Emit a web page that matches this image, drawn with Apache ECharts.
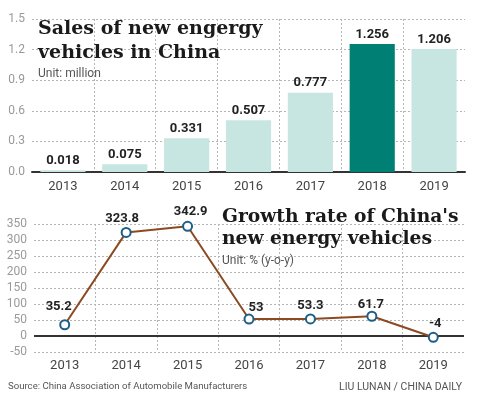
<!DOCTYPE html>
<html>
<head>
<meta charset="utf-8">
<script src="https://cdn.jsdelivr.net/npm/echarts@6/dist/echarts.min.js"></script>
<style>
html, body { margin: 0; padding: 0; background: #fff; }
#main { width: 478px; height: 399px; }
</style>
</head>
<body>
<div id="main"></div>
<script>
var years = ['2013', '2014', '2015', '2016', '2017', '2018', '2019'];
var sales = [0.018, 0.075, 0.331, 0.507, 0.777, 1.256, 1.206];
var growth = [35.2, 323.8, 342.9, 53, 53.3, 61.7, -4];
var salesTicks = [0, 1.5, 0.3];   // min, max, step
var growthTicks = [-50, 350, 50];

var chart = echarts.init(document.getElementById('main'));

var labelFont = 'Roboto, sans-serif';
var grayAxis = '#9a9a9a';
var gridLine = { color: '#b5b5b5', type: [2, 2], width: 1 };

// nudge line labels like the print graphic does
var lineLabelNudge = [[-6, -4], [-4, 0], [3, -1], [7, 3], [0, 1], [-1, 2], [2, 0]];

var growthData = growth.map(function (v, i) {
	return { value: v, label: { offset: lineLabelNudge[i] } };
});

var salesData = sales.map(function (v, i) {
	var top = v === Math.max.apply(null, sales);
	return { value: v, itemStyle: { color: top ? '#007f74' : '#c7e6e2' } };
});

chart.setOption({
	animation: false,
	title: [{
		left: 33, top: 12,
		text: 'Sales of new engergy\nvehicles in China',
		subtext: 'Unit: million',
		itemGap: 3,
		textStyle: { fontFamily: 'DejaVu Serif', fontWeight: 'bold', fontSize: 19, lineHeight: 24, color: '#1a1a1a' },
		subtextStyle: { fontFamily: labelFont, fontSize: 12, color: '#555' }
	}, {
		left: 217, top: 201,
		text: "Growth rate of China's\nnew energy vehicles",
		subtext: 'Unit: % (y-o-y)',
		itemGap: 5,
		textStyle: { fontFamily: 'DejaVu Serif', fontWeight: 'bold', fontSize: 18.7, lineHeight: 22, color: '#1a1a1a' },
		subtextStyle: { fontFamily: labelFont, fontSize: 12, color: '#555' }
	}, {
		left: 3, top: 377,
		text: 'Source: China Association of Automobile Manufacturers',
		textStyle: { fontFamily: labelFont, fontWeight: 'normal', fontSize: 9.6, color: '#555' }
	}, {
		right: 11, top: 377,
		text: 'LIU LUNAN / CHINA DAILY',
		textStyle: { fontFamily: labelFont, fontWeight: 'normal', fontSize: 10.5, color: '#555' }
	}],
	grid: [
		{ left: 32, right: 13, top: 19, height: 153 },
		{ left: 34, right: 14, top: 224, height: 128 }
	],
	xAxis: [{
		gridIndex: 0, type: 'category', data: years,
		axisLine: { lineStyle: { color: '#333', width: 2 } },
		axisTick: { show: false },
		axisLabel: { fontFamily: labelFont, fontSize: 13, color: '#444', margin: 8 },
		splitLine: { show: true, showMinLine: false, showMaxLine: false, lineStyle: gridLine }
	}, {
		gridIndex: 1, type: 'category', data: years,
		axisLine: { show: false, onZero: false },
		axisTick: { show: false },
		axisLabel: { fontFamily: labelFont, fontSize: 13, color: '#444', margin: 7 },
		splitLine: { show: true, showMinLine: false, showMaxLine: false, lineStyle: gridLine }
	}],
	yAxis: [{
		gridIndex: 0, type: 'value',
		min: salesTicks[0], max: salesTicks[1], interval: salesTicks[2],
		axisLine: { show: false }, axisTick: { show: false },
		axisLabel: { fontFamily: labelFont, fontSize: 12, color: grayAxis, margin: 7,
			formatter: function (v) { return v.toFixed(1); } },
		splitLine: { lineStyle: gridLine }
	}, {
		gridIndex: 1, type: 'value',
		min: growthTicks[0], max: growthTicks[1], interval: growthTicks[2],
		axisLine: { show: false }, axisTick: { show: false },
		axisLabel: { fontFamily: labelFont, fontSize: 12, color: grayAxis, margin: 7 },
		splitLine: { lineStyle: gridLine }
	}],
	series: [{
		type: 'bar', xAxisIndex: 0, yAxisIndex: 0,
		data: salesData,
		barWidth: '73%',
		label: {
			show: true, position: 'top', distance: 3,
			fontFamily: labelFont, fontWeight: 'bold', fontSize: 13, color: '#222'
		}
	}, {
		type: 'line', xAxisIndex: 1, yAxisIndex: 1,
		data: growthData,
		symbol: 'circle', symbolSize: 9,
		lineStyle: { color: '#8b4a22', width: 2 },
		itemStyle: { color: '#fff', borderColor: '#1d5f87', borderWidth: 2 },
		z: 5,
		label: {
			show: true, position: 'top', distance: 2,
			fontFamily: labelFont, fontWeight: 'bold', fontSize: 13, color: '#222'
		},
		markLine: {
			silent: true, symbol: 'none', label: { show: false },
			lineStyle: { color: '#333', width: 2, type: 'solid' },
			data: [{ yAxis: 0 }],
			z: 2
		}
	}]
});
</script>
</body>
</html>
